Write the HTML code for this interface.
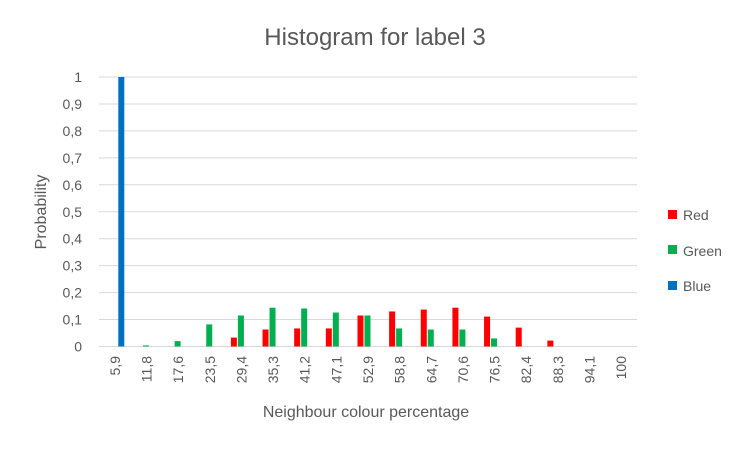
<!DOCTYPE html>
<html><head><meta charset="utf-8"><style>
body{margin:0;background:#fff;font-family:"Liberation Sans",sans-serif;}
</style></head><body>
<svg id="chart" width="750" height="449" xmlns="http://www.w3.org/2000/svg" font-family="Liberation Sans, sans-serif">
<rect width="750" height="449" fill="#fff"/>
<text x="375" y="45" text-anchor="middle" font-size="24" fill="#595959">Histogram for label 3</text>
<g id="grid"></g><g id="bars"></g><g id="xlabels"></g><g id="ylabels"></g>
<text transform="translate(46,212) rotate(-90)" text-anchor="middle" font-size="16" fill="#595959">Probability</text>
<text x="366" y="417" text-anchor="middle" font-size="16" fill="#595959">Neighbour colour percentage</text>
<g font-size="14" fill="#595959">
<rect x="668" y="210" width="9" height="9" fill="#ff0000"/>
<text x="683" y="220">Red</text>
<rect x="668" y="245" width="9" height="9" fill="#00b050"/>
<text x="683" y="256">Green</text>
<rect x="668" y="281" width="9" height="9" fill="#0070c0"/>
<text x="683" y="291">Blue</text>
</g>
</svg>
<script>
const categories=["5,9","11,8","17,6","23,5","29,4","35,3","41,2","47,1","52,9","58,8","64,7","70,6","76,5","82,4","88,3","94,1","100"];
const redValues=[0,0,0,0,0.033,0.063,0.067,0.067,0.115,0.13,0.137,0.144,0.111,0.07,0.022,0,0];
const greenValues=[0,0.004,0.02,0.082,0.115,0.144,0.141,0.126,0.115,0.067,0.063,0.063,0.03,0,0,0,0];
const blueValues=[1,0,0,0,0,0,0,0,0,0,0,0,0,0,0,0,0];
const yTicks=[0,0.1,0.2,0.3,0.4,0.5,0.6,0.7,0.8,0.9,1];
const yTickLabels=["0","0,1","0,2","0,3","0,4","0,5","0,6","0,7","0,8","0,9","1"];
const NS="http://www.w3.org/2000/svg";
const x0=99,x1=637,y0=346.5,y1=77;
const band=(x1-x0)/categories.length;
function yScale(v){return y0-(y0-y1)*v;}
function xBand(i){return x0+i*band;}
const grid=document.getElementById('grid'),ylab=document.getElementById('ylabels');
yTicks.forEach((t,i)=>{
 const l=document.createElementNS(NS,'line');
 
 
 l.setAttribute('x1',x0);l.setAttribute('x2',x1);l.setAttribute('y1',yScale(t));l.setAttribute('y2',yScale(t));
 l.setAttribute('stroke','#d9d9d9');l.setAttribute('stroke-width','1');grid.appendChild(l);
 const tx=document.createElementNS(NS,'text');
 
 
 tx.setAttribute('x',82);tx.setAttribute('y',yScale(t)+5);tx.setAttribute('text-anchor','end');
 tx.setAttribute('font-size','14');tx.setAttribute('fill','#595959');tx.textContent=yTickLabels[i];ylab.appendChild(tx);
});
const bars=document.getElementById('bars'),xl=document.getElementById('xlabels');
const series=[[redValues,'#ff0000','bar-red'],[greenValues,'#00b050','bar-green'],[blueValues,'#0070c0','bar-blue']];
const bw=6,gap=1;
categories.forEach((c,i)=>{
 const start=xBand(i)+5.3;
 series.forEach((s,k)=>{
  const v=s[0][i]; if(v<=0) return;
  const r=document.createElementNS(NS,'rect');
  
  
  r.setAttribute('x',start+k*(bw+gap));r.setAttribute('width',bw);
  r.setAttribute('y',yScale(v));r.setAttribute('height',y0-yScale(v));r.setAttribute('fill',s[1]);
  bars.appendChild(r);
 });
 const tx=document.createElementNS(NS,'text');
 
 
 const cx=xBand(i)+band/2+5;
 tx.setAttribute('transform','translate('+cx+',356) rotate(-90)');
 tx.setAttribute('text-anchor','end');tx.setAttribute('font-size','14');tx.setAttribute('fill','#595959');
 tx.textContent=c;xl.appendChild(tx);
});
</script>
</body></html>
